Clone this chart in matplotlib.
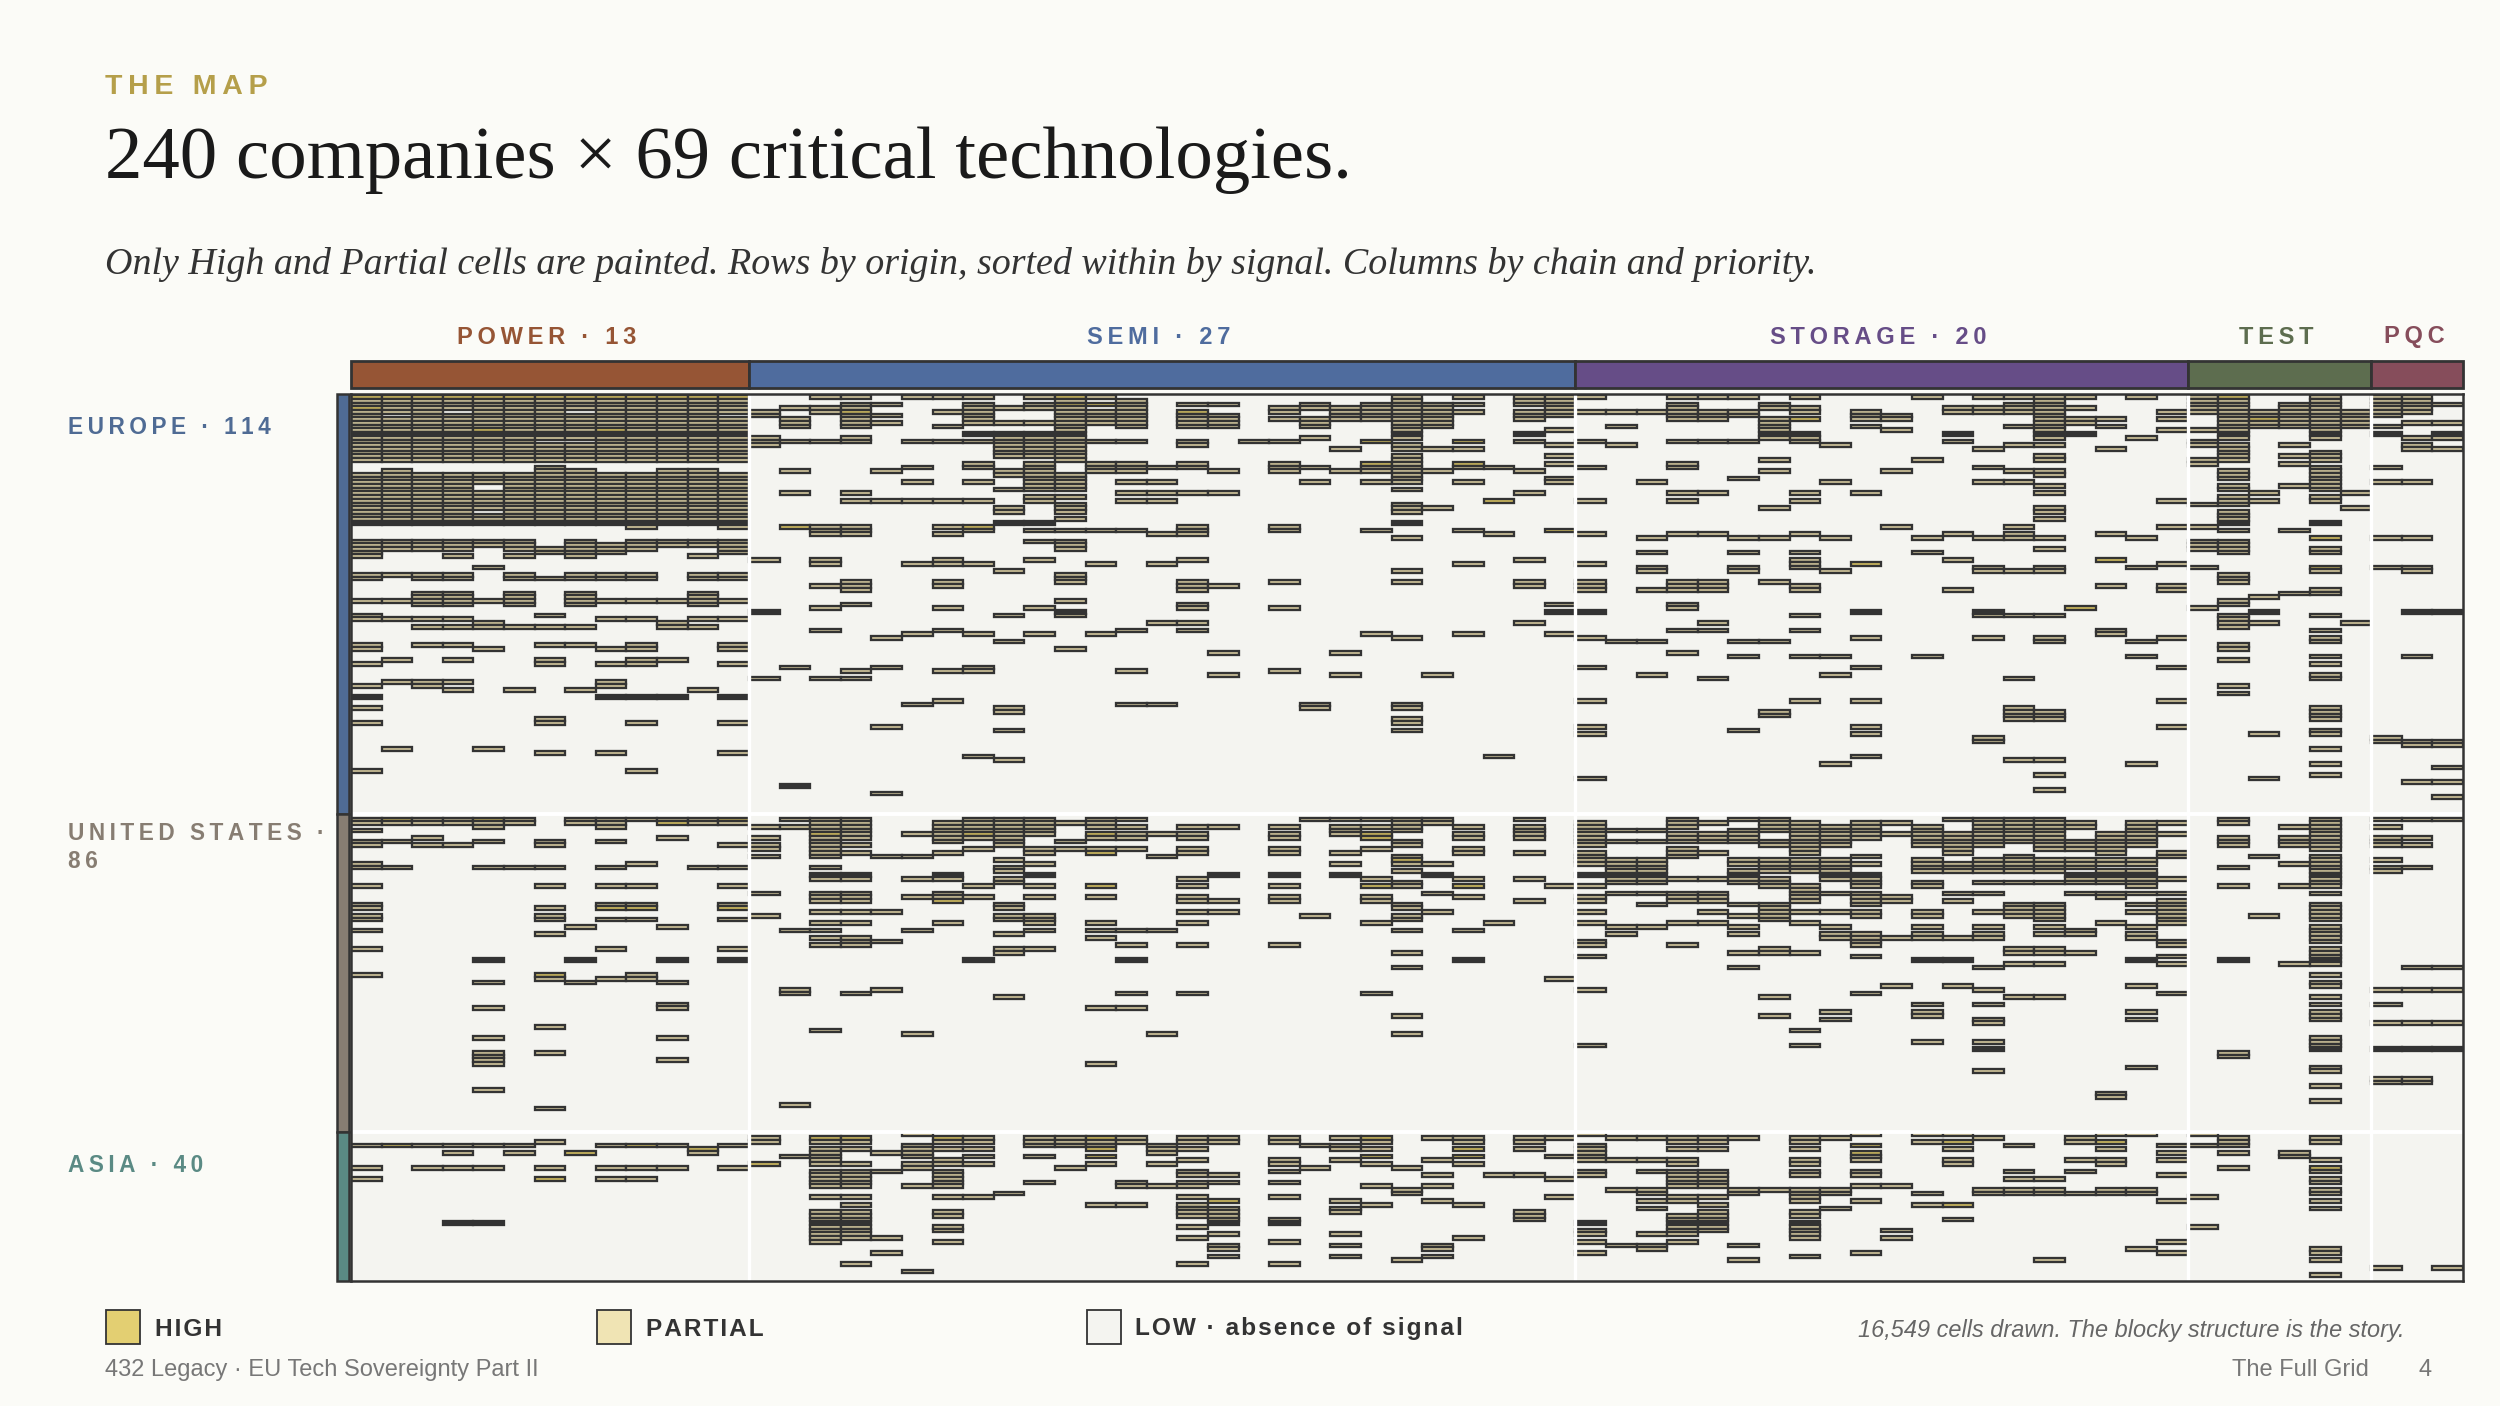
import matplotlib
matplotlib.use('Agg')
import matplotlib.pyplot as plt
from matplotlib.patches import Rectangle

# rows painted per technology column
POWER_ROWS = [
    "1-18 22-35 40-44 49 50 56 60 61 68 69 73 79 82 85 89 102 115 116 118 121 122 127 128 133 138 139 141 142 145 150 157 203 209 212",
    "1-5 7-18 21-35 40-42 49 56 61 72 78 96 115 116 121 128 203",
    "1-18 22-35 40-42 49 50 54-57 61 63 68 78 79 115 116 120 122 203 209",
    "1-4 6-18 22-35 40-42 44 49 50 54-57 61 63 68 72 78 80 115 116 122 203 205 209 224",
    "1-18 22-24 27-31 33-35 40 41 47 56 62 63 69 96 115-117 121 128 153 159 166 174 178-181 188 203 209 224",
    "1-18 22-35 40-42 44 49 50 54-57 63 80 115 116 128 203 205",
    "1-12 14-18 20-35 42 43 50 60 63 68 72 73 88 89 97 121 122 128 133 139 141 142 146 157 158 171 178 193 202 209 212",
    "1-4 6-12 14-18 21-35 40-44 49 50 54-57 63 68 80 115 116 144 153 159 205",
    "1-18 22-35 41-43 49 50 56 61 69 73 78 79 82 97 115-117 121 128 133 138 139 142 150 158 203 209 212",
    "1-18 22-36 40-42 49 50 56 61 68 69 72 73 82 89 102 115 127 133 138 139 142 157 158 203 209 212",
    "1-18 21-35 40 41 56 62 63 72 82 115 116 120 144 153 159 165 166 174 180 203 209",
    "1-18 21-35 40 41 44 49 50 54-57 61 63 80 115 116 128 204 205",
    "1-5 7-18 22-36 40-43 49 50 56 61 68 69 73 82 89 97 115 116 122 128 133 138 139 142 150 153 203 209",
]
SEMI_ROWS = [
    "5 6 12-14 45 59 77 117 120 122 123 125 135 141 201 202 208",
    "4 7-9 13 21 27 36 74 106 115 117 145 161 162 192 206",
    "1 4 5 13 36-38 45 46 52 58 64 77 115-125 128 130 131 135-137 140 143 145 147 149 172 201 202 204-208 210-214 217 221-229",
    "1 3-9 12 13 27 29 36-38 51-53 57 75 77 115-120 122 124 130 131 135-137 140 143 147-149 162 201 202 204 208 210-214 217 219 221-228 235",
    "3 6 8 21 29 66 74 90 108 125 140 148 161 205 210 228 232",
    "1 13 20 24 29 46 65 84 119 125 131 136 145 173 200 203-206 208 209 214 237",
    "1 5 9 13 29 36 38 45 46 51 52 58 64 75 83 116-121 124 130 131 135-137 143 201 202 204 207 208 210-214 217 221 222 225 226 229",
    "1 3-8 11 13 19 20 24 29 36 37 46 65 74 75 98 115-120 123 133 136 153 201 202 204 206 208 217",
    "4 8 11-17 21 22 26 31 32 35 48 60 67 85 86 91 99 115-122 126 128 129 131 132 138 139 141 142 146 150 151 163 216",
    "1 3 4 8 11-17 19-26 28 29 35 37 40 45 58 65 115-119 123 124 127 130 133 136 141-143 145 150 201-203 206 213",
    "1-18 22-26 28 30-32 34 37 40-42 49-51 56 59 60 69 116 121 123 201-203 209",
    "1 3 5-8 13 19-21 37 46 65 115-117 119 120 123 124 133 136 143 145 147 166 181 201-204 206 208 219",
    "2-9 13 19-21 24 27 29 37 64 75 84 115 117 119 120 123 145 149 153 162 166 201 202 213 214 219",
    "20 24 27 29 38 46 62 84 119 125 145 173 203-205 208 214",
    "3 5-9 13 14 19 20 27 36-38 45 51-53 57 58 62 64 117 119 120 123 124 131 133 136 137 140 143 149 162 201 202 204 207 210 211 213 214 217 219-222 225 228 235",
    "3 6-9 21 27 52 70 76 117 130 137 140 201 202 211 213 218 220-224 227 230 231 233",
    "13",
    "4 5 7 13 19-21 36 37 51 58 75 117 119 120 123 124 130 133 136 137 149 201 202 207 208 210 213 217 223 224 229 235",
    "3 4 7-9 12 20 24 84 85 115 141 203 209",
    "4-7 15 21 70 76 115 117-119 124 127 130 201 203 204 207 218 220 221 227 230 233",
    "3-7 13 19-21 24 37 65 115 117 119 120 123 131 133 136 137 143 162 201 202 204 206 208 214 219",
    "1-12 14 15 17-24 26 30-32 35 39 48 51 66 84 85 88 89 91 115-118 121 122 125-127 129 132 133 138 139 141 142 145 151 155 168 173 209 215 216 234",
    "3-9 15 21 31 76 115 116 127 130 135 140 201 207 211 214 218 230 231 233",
    "1 3 5 13 15 19 20 24 37 46 65 117 119 120 123 124 131 133 136 145 153 201 202 204 206 208 219 228",
    "20 29 38 98 143 211",
    "1-3 5-7 11 13 21 27 45 51 52 62 115 117-120 124 131 137 201 202 204 211 221-223",
    "1-6 10 14 17 19 23 24 37 57 59 65 133 158 201 206 212 217",
]
STORAGE_ROWS = [
    "1 5 13 20 29 38 46 51-53 59 66 74 83 90 92 104 116-122 124-127 130 133 136 137 140 143 148 149 152 161 176 200 203-207 210 211 224 226 227 229 232",
    "5 9 14 67 118 121 126-132 135 144 146 201 207 215 230",
    "5 24 39 43 47 48 53 67 76 118 121 126-132 135 138 144 201 207 210 215 216 218 220 227 230 231",
    "1 3-7 13 19 20 27 29 38 51-53 57 58 64 70 115-117 119-121 123-125 131 135-137 143 149 201 202 204 207 208 210-214 217 218 222-227 229",
    "1 5-7 13 27 38 51-53 62 64 77 116 119-121 124 131 135-137 140 143 201 202 204 210-214 217 219 221-226",
    "1 5 6 13 23 39 43 47 48 67 71 91 115 118-121 126 127 129-132 138 141 144 146 151 155 201 215 216 230 234",
    "3 4 7-12 18 21 31 39 51 67 86 87 115-118 121 122 126-129 131-133 138-142 150 151 163 168 215",
    "1 4 5 7 11-13 27 29 38 43 45-47 52 53 60 64 71 83 116-124 126-129 133-137 140 143 151 172 176 201 202 204 207 208 210 211 215-218 221 222 224-228 233",
    "14 24 39 48 71 76 100 117-122 126-131 135 140 144 146 147 167 169 201 215 216 220",
    "5-7 9 27 46 59 66 74 83 90 92 98 116-120 125 127 130-133 135-138 140 141 146-149 152 162 200 203 205-207 210 211 214 218 232",
    "6 7 10 21 36 116 119 136 137 147 160 214 226 228",
    "1 18 39 43 71 117-122 126-129 132 133 140 141 144 146 147 153 165 167 168 175 200 202 216 219",
    "4 5 11 13 38 45 53 115 119-124 127-129 135 137 147 153 160 200 202 204 207 208 219 223",
    "1 4 5 15 20 24 39 47 48 59 60 66 93 94 115-122 126-129 132 135 140 144 146 147 155 161 165 169 170 175 177 183 201 215 216",
    "1 3-5 9 14 21 24 36 38 39 48 60 77 85-88 99 115-121 125-129 132 138-141 150 151 154 163 203 210 212 215 216",
    "1-12 14 17 18 21 22 25 27 31 32 34 39 42 47 48 60 66 67 86-88 99 103 107 115-123 126-129 132 138-142 144 146 150 151 154 163 212 215 216 234",
    "1 4 7 8 11 58 116 117 121-123 126-128 130-132 135 145 146 151 201 202 207 210 216",
    "7 9 15 38 45 52 64 65 119-124 126 127 129-132 135 136 143 189 190 200 202 204 207 208 215 216",
    "1 12 39 47 67 71 100 116-122 126 127 129-133 135 138 140 144 146 147 153 160 167 169 182 200 215 216 231",
    "5 7 10 29 36 46 52 53 66 74 83 90 116 119 124 125 131 135 137-143 148 149 152 154 162 203 205 207 211 218 229 232",
]
TEST_ROWS = [
    "1-5 10 13 14 18 19 30 36 40-42 47 58 200 203 217 225",
    "1-12 14-18 21-23 25 26 28-30 32-35 37 40-43 49-51 56 57 60-63 68 69 72 79 81 115 116 120-122 128 133 153 178 179 201-203 205 209",
    "5-9 27 29 55 59 62 92 104 125 141",
    "3-9 14 17 19 25 37 54 117 120-122 127 133 154 205 206",
    "1-12 16-18 20-26 28 29 35 39 42 43 47 48 53 54 60 64 66 67 71 73 76 77 85-88 91 92 96 100 103 115-123 125-133 135 138-142 144-148 150-154 157 159 160 163 165 167-169 174-177 182 183 187 191 201 202 207 209 210 212 213 215 216 218 220 231 232 234 238",
    "5-9 27 31 62",
]
PQC_ROWS = [
    "1-6 9 11 20 24 39 47 93 94 115 117 120-122 126 128 129 161 165 170 177 185 186 236",
    "1-5 8 12 14 15 24 39 47 48 59 71 94 95 105 115 120 122 128 155 161 170 177 185 186",
    "3 8 11 12 15 59 94 95 101 105 109 115 155 161 170 177 236",
]

# cells that read as High, (column, row)
HIGH_CELLS = [(c, 1) for c in range(13)] + [
    (0, 4), (4, 10), (8, 10), (14, 36), (16, 5), (20, 36), (23, 1), (23, 3), (24, 3), (33, 13), (33, 19),
    (36, 13), (36, 19), (37, 29), (39, 37), (27, 5), (49, 46), (47, 7), (64, 39), (64, 47), (61, 1), (62, 7),
    (57, 45), (56, 58), (1, 115), (4, 115), (12, 115), (10, 116), (6, 157), (8, 139), (9, 139), (12, 139),
    (15, 119), (20, 119), (19, 137), (24, 119), (24, 124), (33, 119), (33, 120), (34, 126), (33, 133),
    (36, 133), (24, 133), (13, 208), (1, 203), (9, 203), (11, 204), (7, 205), (6, 212), (15, 201), (16, 201),
    (19, 201), (24, 201), (24, 204), (24, 206), (28, 218), (33, 201), (33, 206), (36, 204), (36, 206),
    (49, 203), (49, 205), (52, 202), (52, 219), (57, 202), (64, 209),
]
# rows that come out solid dark in the picture
DARK_ROWS = [11, 35, 59, 82, 106, 130, 153, 177, 224]

CHAIN_NAMES = ['POWER', 'SEMI', 'STORAGE', 'TEST', 'PQC']
CHAIN_COUNTS = [13, 27, 20, 6, 3]
CHAIN_COLORS = ['#965535', '#4f6c9e', '#664d87', '#5d6d4f', '#864d5b']
REGION_COUNTS = [114, 86, 40]
REGION_COLORS = ['#4f6b94', '#877d72', '#5a8a84']

BG = '#fbfbf7'
INK = '#333333'
HIGH = '#e3cf72'
PARTIAL = '#f0e4b4'
LOW = '#f4f4f0'
# the strokes bleed over the thin cells, so the fills read darker than the swatches
CELL_HIGH = '#cdb95f'
CELL_PARTIAL = '#cfc49a'
THIN = '\u2009'
HAIR = '\u200a'


def parse_rows(s):
    out = []
    for part in s.split():
        if '-' in part:
            a, b = part.split('-')
            out.extend(range(int(a), int(b) + 1))
        else:
            out.append(int(part))
    return out


def spaced(s, gap=THIN):
    return gap.join(s)


plt.rcParams['font.family'] = ['Liberation Sans', 'DejaVu Sans']
fig = plt.figure(figsize=(25, 14.06), dpi=100, facecolor=BG)

# page layer in pixels
page = fig.add_axes([0, 0, 1, 1])
page.set_xlim(0, 2500)
page.set_ylim(1406, 0)
page.axis('off')

GRID_L, GRID_R = 351, 2463
ROW_H = 3.705
ROW_Y0 = 391.45
GRID_T = ROW_Y0 + 0.82 * ROW_H
GRID_B = ROW_Y0 + 240 * ROW_H
pitch = (GRID_R - GRID_L) / sum(CHAIN_COUNTS)

page.text(105, 87, spaced('THE MAP'), color='#b59f4a', fontsize=20.5, fontweight='bold', va='center')
page.text(105, 160, '240 companies × 69 critical technologies.', color='#1a1a1a', fontsize=53.8,
          family=['Liberation Serif', 'DejaVu Serif'], va='center')
page.text(105, 264, 'Only High and Partial cells are painted. Rows by origin, sorted within by signal. '
          'Columns by chain and priority.', color='#333333', fontsize=27.4, style='italic',
          family=['Liberation Serif', 'DejaVu Serif'], va='center')

# chain header
start = 0
for name, count, color in zip(CHAIN_NAMES, CHAIN_COUNTS, CHAIN_COLORS):
    x0 = GRID_L + start * pitch
    w = count * pitch
    page.add_patch(Rectangle((x0, 361), w, 27, facecolor=color, edgecolor=INK, linewidth=2))
    label = f'{name} · {count}' if count > 6 else name
    page.text(x0 + w / 2 - 3, 337, spaced(label), color=color, fontsize=17, fontweight='bold',
              ha='center', va='center')
    start += count

# region bars and labels
REGION_LABELS = [['EUROPE · 114'], ['UNITED STATES ·', '86'], ['ASIA · 40']]
REGION_LABEL_Y = [427, 833, 1166]
start = 0
for count, color, lines, ly in zip(REGION_COUNTS, REGION_COLORS, REGION_LABELS, REGION_LABEL_Y):
    y0 = max(GRID_T, ROW_Y0 + start * ROW_H)
    y1 = ROW_Y0 + (start + count) * ROW_H
    page.add_patch(Rectangle((337, y0), 12, y1 - y0, facecolor=color, edgecolor=INK, linewidth=1.8))
    for i, line in enumerate(lines):
        page.text(68, ly + i * 29, spaced(line), color=color, fontsize=16.3, fontweight='bold', va='center')
    start += count

# the matrix
ax = fig.add_axes([GRID_L / 2500, 1 - GRID_B / 1406, (GRID_R - GRID_L) / 2500, (GRID_B - GRID_T) / 1406])
ax.set_xlim(0, sum(CHAIN_COUNTS))
ax.set_ylim(240, 0.82)
ax.set_facecolor(LOW)
ax.set_xticks([])
ax.set_yticks([])
for s in ax.spines.values():
    s.set_color(INK)
    s.set_linewidth(1.8)

columns = POWER_ROWS + SEMI_ROWS + STORAGE_ROWS + TEST_ROWS + PQC_ROWS
high_set = set(HIGH_CELLS)
for col, rows in enumerate(columns):
    for row in parse_rows(rows):
        if row in DARK_ROWS:
            fill = INK
        elif (col, row) in high_set:
            fill = CELL_HIGH
        else:
            fill = CELL_PARTIAL
        ax.add_patch(Rectangle((col, row), 1, 1, facecolor=fill, edgecolor=INK, linewidth=1.65))

# white separators over the cells
start = 0
for count in CHAIN_COUNTS[:-1]:
    start += count
    ax.axvline(start, color='white', linewidth=2.4)
start = 0
for count in REGION_COUNTS[:-1]:
    start += count
    ax.axhline(start, color='white', linewidth=2.8)

# legend and footer
LEGEND = [(106, HIGH, 'HIGH', 155), (597, PARTIAL, 'PARTIAL', 646), (1087, LOW, 'LOW · absence of signal', 1135)]
for x, color, label, tx in LEGEND:
    page.add_patch(Rectangle((x, 1310), 34, 34, facecolor=color, edgecolor=INK, linewidth=1.3))
    page.text(tx, 1329, spaced(label, HAIR), color=INK, fontsize=17.6, fontweight='bold', va='center')
page.text(2404, 1331, '16,549 cells drawn. The blocky structure is the story.', color='#666666', fontsize=16.9,
          style='italic', ha='right', va='center')
page.text(105, 1370, '432 Legacy · EU Tech Sovereignty Part II', color='#777777', fontsize=17, va='center')
page.text(2369, 1370, 'The Full Grid', color='#777777', fontsize=17, ha='right', va='center')
page.text(2425, 1370, '4', color='#777777', fontsize=17, ha='center', va='center')

fig.savefig('out.png', dpi=100, facecolor=BG)
